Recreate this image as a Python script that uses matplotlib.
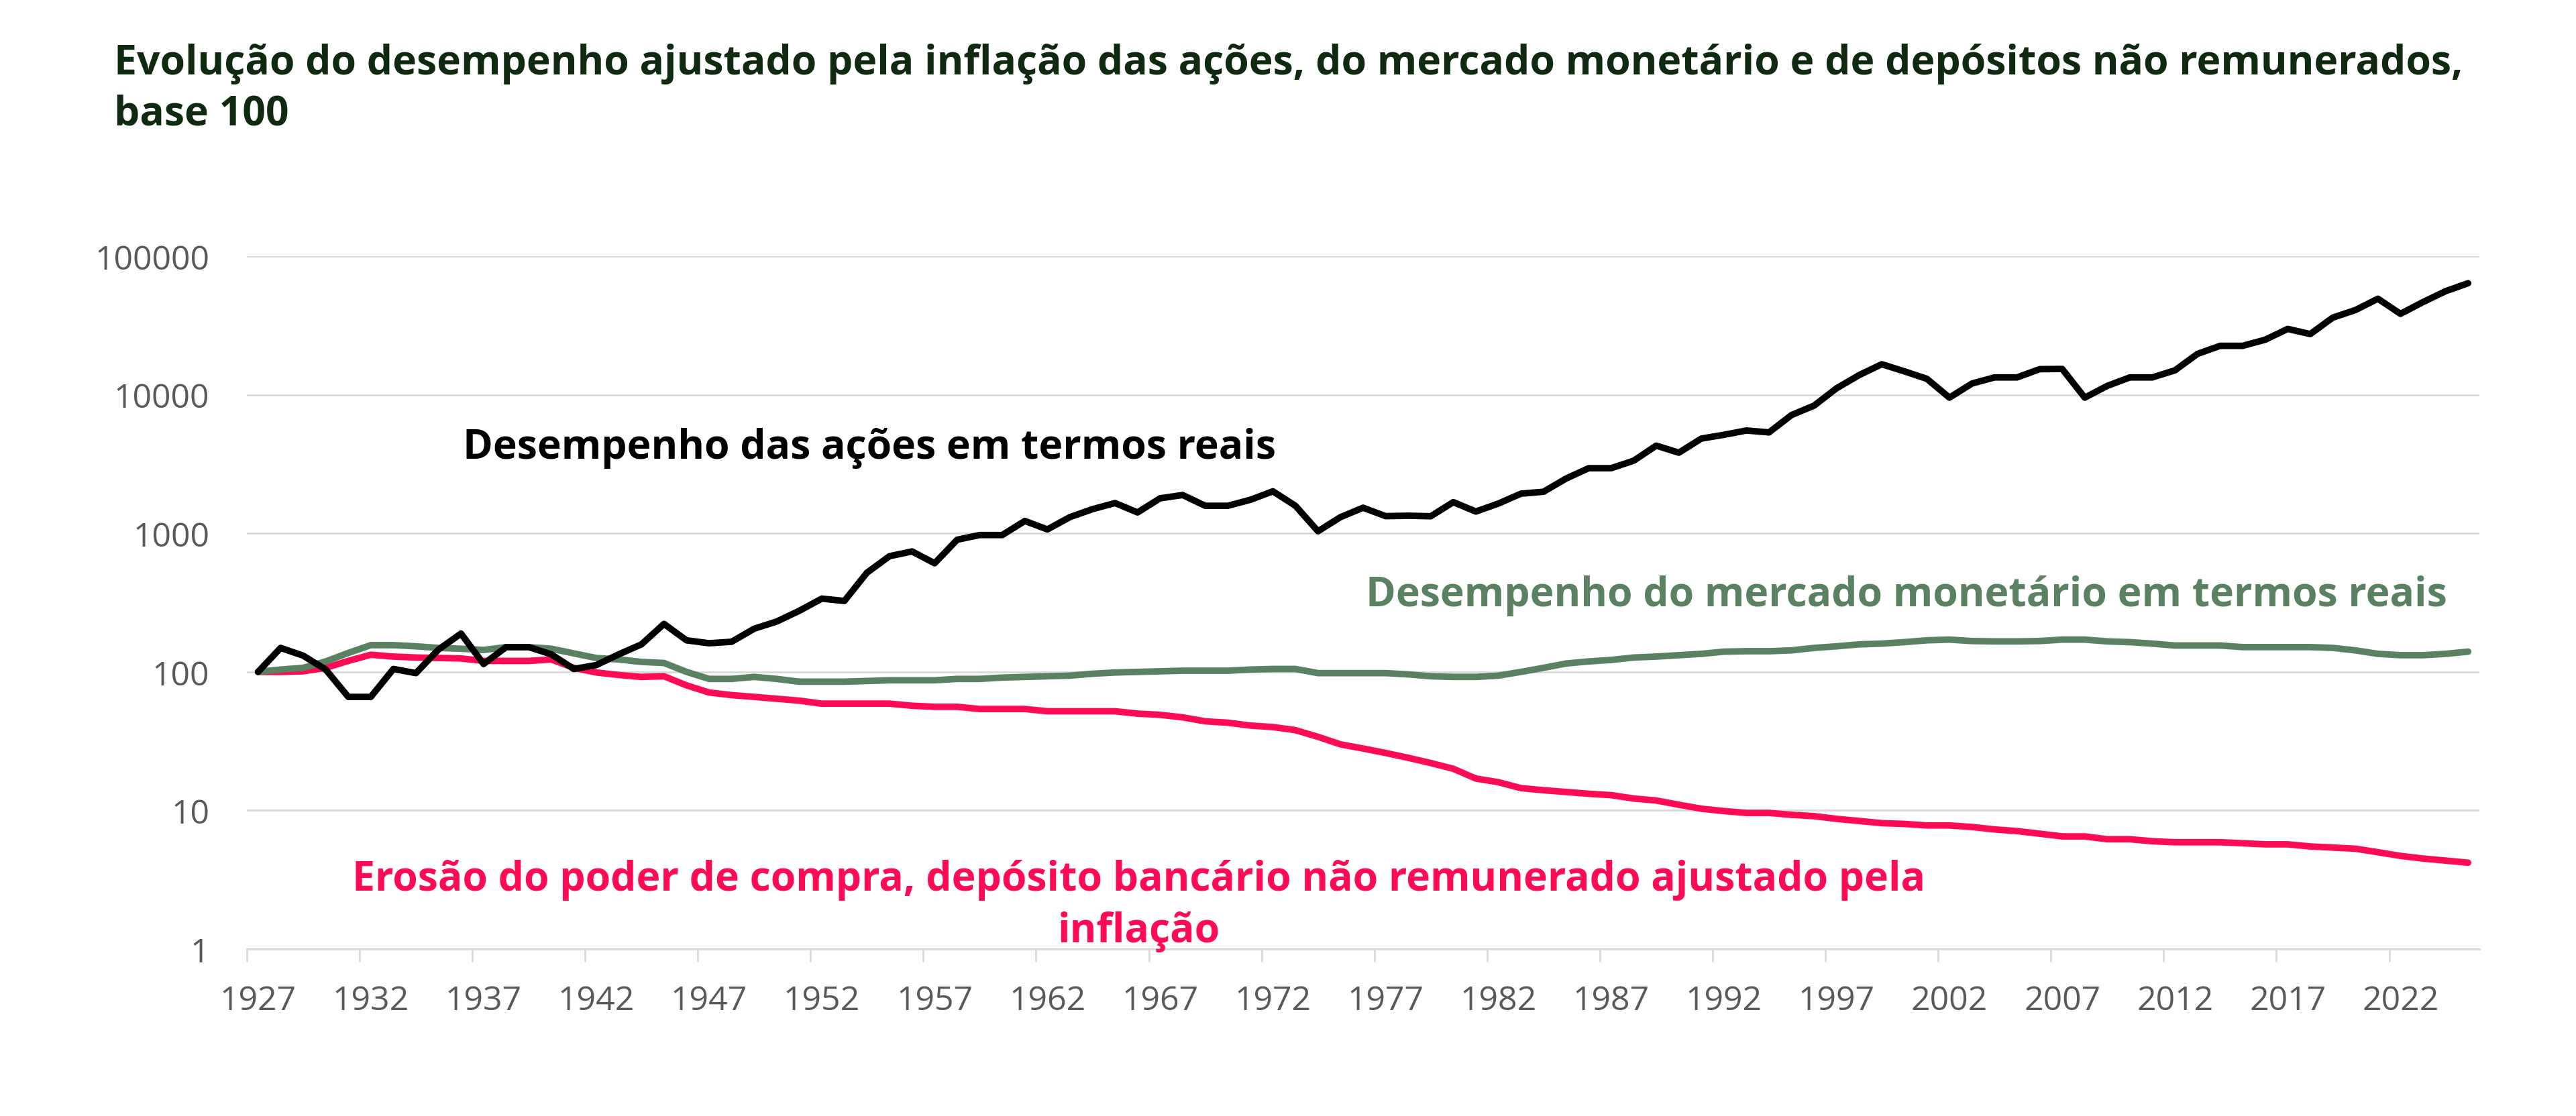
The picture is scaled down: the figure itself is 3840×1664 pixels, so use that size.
import matplotlib
matplotlib.use('Agg')
import matplotlib.pyplot as plt
import matplotlib.ticker as ticker
import numpy as np

plt.rcParams["font.family"] = ['Open Sans', 'DejaVu Sans']

# data, base 100
years = list(range(1927, 2026))

stocks = [100, 149, 131, 104, 66, 66, 105, 98, 145, 189,
          114, 151, 151, 134, 105, 112, 134, 158, 222, 169,
          161, 165, 205, 231, 276, 338, 325, 520, 684, 740,
          608, 899, 972, 972, 1228, 1067, 1309, 1494, 1654, 1415,
          1790, 1890, 1580, 1580, 1745, 2010, 1580, 1035, 1309, 1530,
          1330, 1340, 1328, 1679, 1436, 1640, 1933, 1995, 2483, 2951,
          2951, 3343, 4294, 3818, 4828, 5140, 5520, 5350, 7140, 8350,
          11150, 13870, 16600, 14760, 13030, 9530, 12050, 13340, 13340, 15300,
          15350, 9530, 11590, 13340, 13340, 15000, 19720, 22530, 22530, 24940,
          29860, 27410, 36030, 40830, 49300, 38370, 46650, 55850, 63800]

money_market = [100, 104, 107, 119, 137, 156, 156, 153, 149, 147,
                144, 151, 151, 147, 136, 126, 123, 118, 116, 100,
                89, 89, 92, 89, 85, 85, 85, 86, 87, 87,
                87, 89, 89, 91, 92, 93, 94, 97, 99, 100,
                101, 102, 102, 102, 104, 105, 105, 98, 98, 98,
                98, 96, 93, 92, 92, 94, 100, 107, 115, 119,
                122, 127, 129, 132, 135, 140, 141, 141, 143, 149,
                153, 158, 160, 164, 169, 171, 167, 166, 166, 167,
                171, 171, 166, 164, 160, 155, 155, 155, 151, 151,
                151, 151, 149, 143, 135, 132, 132, 135, 140]

deposits = [100, 100, 101, 107, 120, 133, 129, 127, 126, 125,
            120, 120, 120, 123, 107, 99, 95, 92, 93, 80,
            71, 68, 66, 64, 62, 59, 59, 59, 59, 57,
            56, 56, 54, 54, 54, 52, 52, 52, 52, 50,
            49, 47, 44, 43, 41, 40, 38, 34, 30, 28,
            26, 24, 22, 20, 17, 16, 14.5, 14.0, 13.6, 13.2,
            12.9, 12.2, 11.8, 11.0, 10.3, 9.9, 9.6, 9.6, 9.3, 9.1,
            8.7, 8.4, 8.1, 8.0, 7.8, 7.8, 7.6, 7.3, 7.1, 6.8,
            6.5, 6.5, 6.2, 6.2, 6.0, 5.9, 5.9, 5.9, 5.8, 5.7,
            5.7, 5.5, 5.4, 5.3, 5.0, 4.7, 4.5, 4.35, 4.2]

title = ('Evolução do desempenho ajustado pela inflação das ações, do mercado monetário '
         'e de depósitos não remunerados,\nbase 100')
label_stocks = 'Desempenho das ações em termos reais'
label_mm = 'Desempenho do mercado monetário em termos reais'
label_dep = 'Erosão do poder de compra, depósito bancário não remunerado ajustado pela\ninflação'

c_black = '#000000'
c_green = '#5A8262'
c_red = '#FF0A54'
c_grid = '#D9D9D9'
c_tick = '#595959'
fs_text = 43.7

fig = plt.figure(figsize=(38.4, 16.65), dpi=100)
ax = fig.add_axes([0.0958, 0.1495, 0.8667, 0.6205])

x = np.arange(len(years))
ax.plot(x, deposits, color=c_red, lw=7, solid_joinstyle='round', solid_capstyle='round', zorder=3)
ax.plot(x, money_market, color=c_green, lw=7, solid_joinstyle='round', solid_capstyle='round', zorder=4)
ax.plot(x, stocks, color=c_black, lw=7, solid_joinstyle='round', solid_capstyle='round', zorder=5)

ax.set_yscale('log')
ax.set_ylim(1, 100000)
ax.set_xlim(-0.5, len(years) - 0.5)

ax.yaxis.set_major_locator(ticker.FixedLocator([1, 10, 100, 1000, 10000, 100000]))
ax.yaxis.set_minor_locator(ticker.NullLocator())
ax.yaxis.set_major_formatter(ticker.FuncFormatter(lambda v, p: '%d' % v))
ax.grid(axis='y', color=c_grid, lw=2, zorder=0)

# labels at category centres, tick marks at category boundaries
ax.xaxis.set_major_locator(ticker.FixedLocator(np.arange(-0.5, len(years), 5)))
ax.xaxis.set_major_formatter(ticker.NullFormatter())
ax.xaxis.set_minor_locator(ticker.FixedLocator(x[::5]))
ax.xaxis.set_minor_formatter(ticker.FixedFormatter([str(y) for y in years[::5]]))
ax.tick_params(axis='x', which='major', length=14, width=2, color=c_grid, direction='out')
ax.tick_params(axis='x', which='minor', length=0, pad=38, labelsize=36, labelcolor=c_tick)
ax.tick_params(axis='y', length=0, pad=40, labelsize=36, labelcolor=c_tick)

for s in ['top', 'right', 'left']:
    ax.spines[s].set_visible(False)
ax.spines['bottom'].set_color(c_grid)
ax.spines['bottom'].set_linewidth(2)

ax.text(27.1, 3500, label_stocks, color=c_black, fontsize=fs_text, fontweight='bold',
        ha='center', va='baseline')
ax.text(73.1, 301, label_mm, color=c_green, fontsize=fs_text, fontweight='bold',
        ha='center', va='baseline')
# baseline of the last line
ax.text(39.05, 1.137, label_dep, color=c_red, fontsize=fs_text, fontweight='bold',
        ha='center', va='baseline', multialignment='center', linespacing=1.33)

fig.text(0.0443, 0.8877, title, color='#102A12', fontsize=fs_text, fontweight='bold',
         ha='left', va='baseline', linespacing=1.33)

fig.savefig('out.png', dpi=100)
